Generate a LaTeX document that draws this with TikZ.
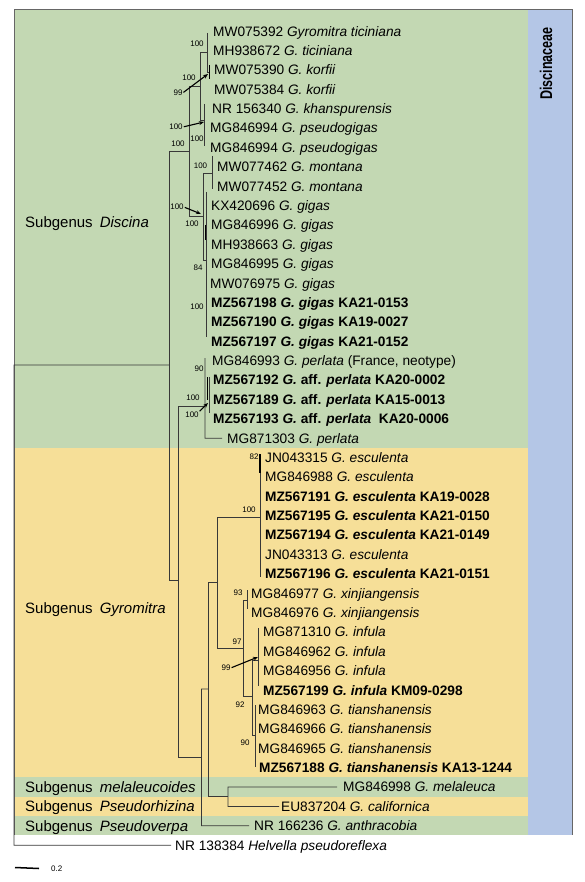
\documentclass[tikz,border=0pt]{standalone}
\usepackage{fontspec}
\setmainfont{Liberation Sans}
\usetikzlibrary{arrows.meta}
\definecolor{bgG}{HTML}{C3D8B3}
\definecolor{bgY}{HTML}{F6DF98}
\definecolor{bgB}{HTML}{B4C6E6}
\newcommand\mytaxon[4]{\node[tx] (#1) at ({#2},{31.2+19.38*(#3-1)}) {#4};}
\begin{document}
\begin{tikzpicture}[x=1pt,y=-1pt,
  br/.style={draw=black!78, line width=0.8pt},
  thk/.style={draw=black, line width=1.3pt},
  tx/.style={anchor=west, inner sep=0pt, text height=9.8pt, text depth=0pt, font=\fontsize{13.7}{16}\selectfont},
  sv/.style={inner sep=0pt, font=\fontsize{8}{9}\selectfont},
  sg/.style={anchor=west, inner sep=0pt, text height=10.7pt, text depth=0pt, font=\fontsize{15}{17}\selectfont},
  arr/.style={draw=black, line width=1.1pt, -{Stealth[length=5pt,width=4pt]}, shorten <=1pt},
]
\useasboundingbox (0,0) rectangle (585,882);
% background bands
\fill[bgG] (14,9) rectangle (528,447.5);
\fill[bgY] (14,447.5) rectangle (528,777);
\fill[bgG] (14,777) rectangle (528,796.5);
\fill[bgY] (14,796.5) rectangle (528,816);
\fill[bgG] (14,816) rectangle (528,835);
\fill[bgB] (528,9) rectangle (572,835);
\draw[black!60, line width=0.8pt] (14,835) -- (14,9) -- (572,9) -- (572,835);
\node[rotate=90, anchor=east, inner sep=0pt, text height=12.2pt, text depth=0pt, font=\bfseries\fontsize{17}{17}\selectfont] (fam) at (546,27) {\scalebox{0.74}[1]{Discinaceae}};

% subgenus labels
\node[sg] (g1) at (25,222) {Subgenus\hspace{7pt}\textit{Discina}};
\node[sg] (g2) at (25,608) {Subgenus\hspace{7pt}\textit{Gyromitra}};
\node[sg] (g3) at (25,787) {Subgenus\hspace{7pt}\textit{melaleucoides}};
\node[sg] (g4) at (25,806.4) {Subgenus\hspace{7pt}\textit{Pseudorhizina}};
\node[sg] (g5) at (25,825.8) {Subgenus\hspace{7pt}\textit{Pseudoverpa}};

% taxa
\mytaxon{t1}{213}{1}{MW075392 \textit{Gyromitra ticiniana}}
\mytaxon{t2}{213}{2}{MH938672 \textit{G. ticiniana}}
\mytaxon{t3}{214}{3}{MW075390 \textit{G. korfii}}
\mytaxon{t4}{214}{4}{MW075384 \textit{G. korfii}}
\mytaxon{t5}{212}{5}{NR 156340 \textit{G. khanspurensis}}
\mytaxon{t6}{210}{6}{MG846994 \textit{G. pseudogigas}}
\mytaxon{t7}{210}{7}{MG846994 \textit{G. pseudogigas}}
\mytaxon{t8}{217}{8}{MW077462 \textit{G. montana}}
\mytaxon{t9}{217}{9}{MW077452 \textit{G. montana}}
\mytaxon{t10}{211}{10}{KX420696 \textit{G. gigas}}
\mytaxon{t11}{211}{11}{MG846996 \textit{G. gigas}}
\mytaxon{t12}{211}{12}{MH938663 \textit{G. gigas}}
\mytaxon{t13}{211}{13}{MG846995 \textit{G. gigas}}
\mytaxon{t14}{210}{14}{MW076975 \textit{G. gigas}}
\mytaxon{t15}{211}{15}{\textbf{MZ567198 \textit{G. gigas} KA21-0153}}
\mytaxon{t16}{211}{16}{\textbf{MZ567190 \textit{G. gigas} KA19-0027}}
\mytaxon{t17}{211}{17}{\textbf{MZ567197 \textit{G. gigas} KA21-0152}}
\mytaxon{t18}{212}{18}{MG846993 \textit{G. perlata} (France, neotype)}
\mytaxon{t19}{213}{19}{\textbf{MZ567192 \textit{G.} aff. \textit{perlata} KA20-0002}}
\mytaxon{t20}{213}{20}{\textbf{MZ567189 \textit{G.} aff. \textit{perlata} KA15-0013}}
\mytaxon{t21}{213}{21}{\textbf{MZ567193 \textit{G.} aff. \textit{perlata}\ \ KA20-0006}}
\mytaxon{t22}{227}{22}{MG871303 \textit{G. perlata}}
\mytaxon{t23}{265}{23}{JN043315 \textit{G. esculenta}}
\mytaxon{t24}{265}{24}{MG846988 \textit{G. esculenta}}
\mytaxon{t25}{265}{25}{\textbf{MZ567191 \textit{G. esculenta} KA19-0028}}
\mytaxon{t26}{265}{26}{\textbf{MZ567195 \textit{G. esculenta} KA21-0150}}
\mytaxon{t27}{265}{27}{\textbf{MZ567194 \textit{G. esculenta} KA21-0149}}
\mytaxon{t28}{265}{28}{JN043313 \textit{G. esculenta}}
\mytaxon{t29}{265}{29}{\textbf{MZ567196 \textit{G. esculenta} KA21-0151}}
\mytaxon{t30}{251}{30}{MG846977 \textit{G. xinjiangensis}}
\mytaxon{t31}{251}{31}{MG846976 \textit{G. xinjiangensis}}
\mytaxon{t32}{263}{32}{MG871310 \textit{G. infula}}
\mytaxon{t33}{263}{33}{MG846962 \textit{G. infula}}
\mytaxon{t34}{263}{34}{MG846956 \textit{G. infula}}
\mytaxon{t35}{263}{35}{\textbf{MZ567199 \textit{G. infula} KM09-0298}}
\mytaxon{t36}{258}{36}{MG846963 \textit{G. tianshanensis}}
\mytaxon{t37}{258}{37}{MG846966 \textit{G. tianshanensis}}
\mytaxon{t38}{258}{38}{MG846965 \textit{G. tianshanensis}}
\mytaxon{t39}{259}{39}{\textbf{MZ567188 \textit{G. tianshanensis} KA13-1244}}
\mytaxon{t40}{343}{40}{MG846998 \textit{G. melaleuca}}
\mytaxon{t41}{281}{41}{EU837204 \textit{G. californica}}
\mytaxon{t42}{254}{42}{NR 166236 \textit{G. anthracobia}}
\mytaxon{t43}{175}{43}{NR 138384 \textit{Helvella pseudoreflexa}}

% tree branches
\draw[br] (169,365) -- (14,365) -- (14,845.2) -- ([xshift=-4pt]t43.west);
\draw[br] (189,151) -- (169,151) -- (169,580) -- (178,580);
\draw[br] (200.7,86) -- (189,86) -- (189,216) -- (203,216);
\draw[br] (207,52) -- (200.7,52) -- (200.7,120) -- (204,120);
\draw[br] (207,33) -- (207,72) -- (209.5,72);
\draw[thk] (209.5,65) -- (209.5,79);
\draw[br] (204,104) -- (204,146);
\draw[br] (212,173) -- (203,173) -- (203,260) -- (206,260);
\draw[br] (212,156) -- (212,189);
\draw[br] (206,192) -- (206,337);
\draw[thk] (205.5,225) -- (205.5,240);
\draw[br] (205,406) -- (178,406) -- (178,757) -- (201.5,757);
\draw[br] (205,358) -- (205,438.2) -- ([xshift=-5pt]t22.west);
\draw[thk] (207.5,377) -- (207.5,400);
\draw[br] (209.5,377) -- (209.5,413);
\draw[br] (208,689) -- (201.5,689) -- (201.5,825.8) -- ([xshift=-5pt]t42.west);
\draw[br] (217,582) -- (208,582) -- (208,796.5) -- (228,796.5);
\draw[br] ([xshift=-6pt]t40.west) -- (228,787) -- (228,806.4) -- ([xshift=-2pt]t41.west);
\draw[br] (260,517) -- (217,517) -- (217,648) -- (243,648);
\draw[br] (260,454) -- (260,577);
\draw[thk] (260,454) -- (260,473);
\draw[br] (247,600) -- (243,600) -- (243,696) -- (252,696);
\draw[br] (247,590) -- (247,609);
\draw[br] (258,660) -- (252,660) -- (252,735) -- (255.5,735);
\draw[br] (258,628) -- (258,686);
\draw[br] (255.5,705) -- (255.5,767);

% support values
\node[sv] (s1) at (197,44) {100};
\node[sv] (s2) at (189,78) {100};
\node[sv] (s3) at (178,93) {99};
\node[sv] (s4) at (176,127) {100};
\node[sv] (s5) at (178,144) {100};
\node[sv] (s6) at (197,139) {100};
\node[sv] (s7) at (200.5,166) {100};
\node[sv] (s8) at (177,207) {100};
\node[sv] (s9) at (192,224) {100};
\node[sv] (s10) at (198,268) {84};
\node[sv] (s11) at (197,307) {100};
\node[sv] (s12) at (199,369) {90};
\node[sv] (s13) at (193,398) {100};
\node[sv] (s14) at (192,415) {100};
\node[sv] (s15) at (254,457) {82};
\node[sv] (s16) at (249,510) {100};
\node[sv] (s17) at (238,593) {93};
\node[sv] (s18) at (237,642) {97};
\node[sv] (s19) at (226,668) {99};
\node[sv] (s20) at (240,705) {92};
\node[sv] (s21) at (245,743) {90};

% arrows
\coordinate (k3) at (208,74);
\coordinate (k4) at (204,122);
\coordinate (k8) at (201,214);
\coordinate (k14) at (208,403);
\coordinate (k19) at (258,657);
\draw[arr] (s3.east) -- (k3);
\draw[arr] (s4.east) -- (k4);
\draw[arr] (s8.east) -- (k8);
\draw[arr] (s14.north east) -- (k14);
\draw[arr] (s19.east) -- (k19);

% scale bar
\coordinate (sb1) at (15,867.5);
\node[sv, anchor=west] (sbl) at (51,868.5) {0.2};
\draw[line width=1.5pt] (sb1) -- ([xshift=-12pt]sbl.west);
\end{tikzpicture}
\end{document}
